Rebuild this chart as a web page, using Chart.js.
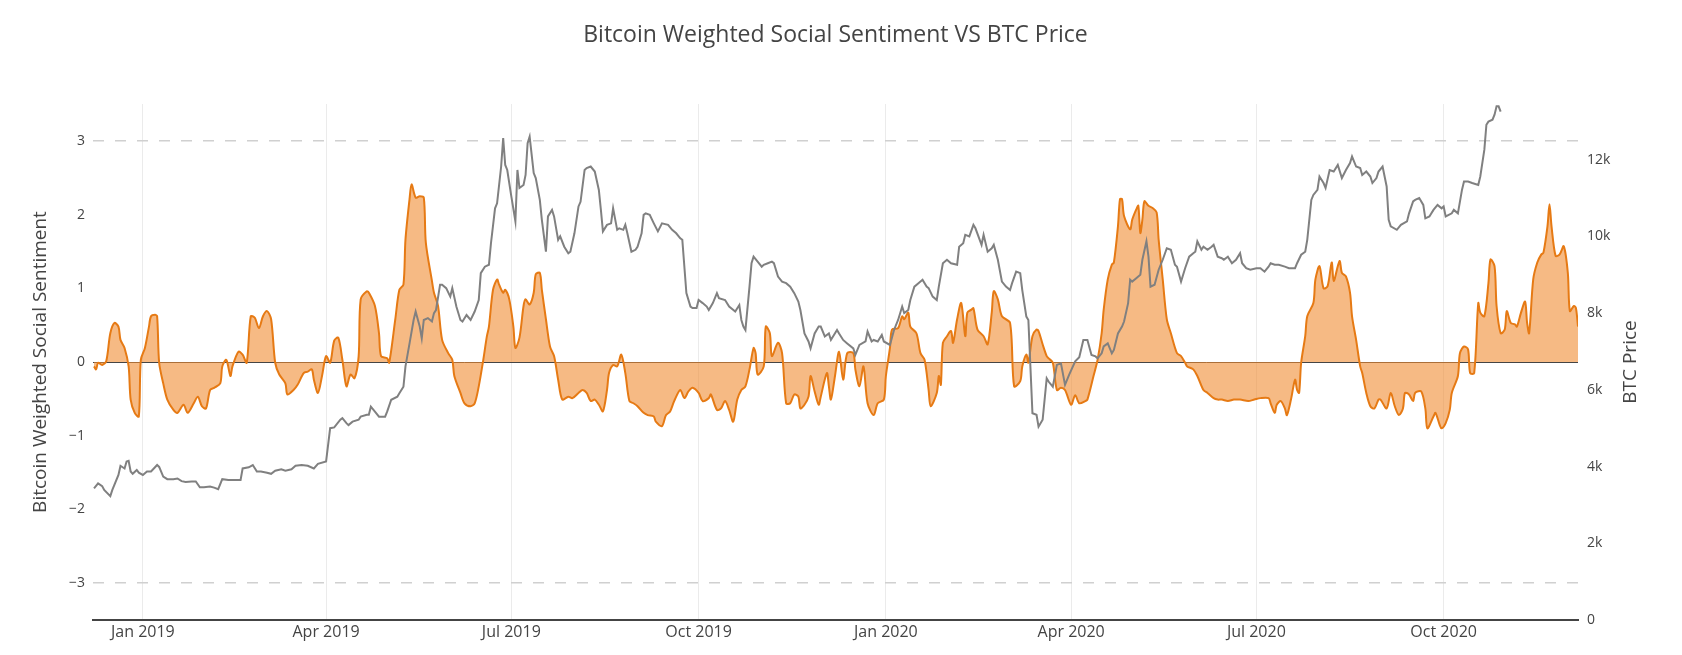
<!DOCTYPE html>
<html>
<head>
<meta charset="utf-8">
<script src="https://cdn.jsdelivr.net/npm/chart.js@4.4.1/dist/chart.umd.min.js"></script>
<style>
html,body{margin:0;padding:0;background:#fff;}
canvas{display:block;}
</style>
</head>
<body>
<canvas id="c" width="1682" height="655"></canvas>
<script>
// Day offsets are counted from this date
const startDate = '2019-01-01';

const titleText = 'Bitcoin Weighted Social Sentiment VS BTC Price';
const leftAxisTitle = 'Bitcoin Weighted Social Sentiment';
const rightAxisTitle = 'BTC Price';

const xTickDays = [0, 90, 181, 273, 365, 456, 547, 639];
const xTickLabels = ['Jan 2019', 'Apr 2019', 'Jul 2019', 'Oct 2019', 'Jan 2020', 'Apr 2020', 'Jul 2020', 'Oct 2020'];
const leftTicks = [-3, -2, -1, 0, 1, 2, 3];
const leftTickLabels = ['\u22123', '\u22122', '\u22121', '0', '1', '2', '3'];
const rightTicks = [0, 2000, 4000, 6000, 8000, 10000, 12000];
const rightTickLabels = ['0', '2k', '4k', '6k', '8k', '10k', '12k'];

const sentimentDays = [-24,-23,-22,-20,-18,-16,-14,-12,-11,-9,-7,-6,-4,-2,-1,1,3,4,6,7,8,10,12,15,17,20,22,25,27,29,31,33,35,38,39,41,43,44,47,49,51,53,55,57,59,61,63,65,67,70,71,74,76,79,81,83,84,86,88,90,92,94,96,98,100,102,104,106,107,110,111,114,116,117,120,121,124,126,128,129,131,132,134,136,138,139,142,143,145,147,150,152,153,156,158,161,163,165,167,169,170,172,174,175,177,178,180,182,183,185,187,188,190,192,193,195,196,198,200,202,204,206,209,211,214,216,218,220,222,224,226,228,229,231,233,235,237,239,241,243,246,248,251,252,255,257,259,261,264,266,268,270,273,275,278,279,282,284,286,288,290,292,294,296,298,300,301,302,305,306,308,309,312,314,316,318,320,322,323,325,327,328,330,332,333,336,337,338,340,342,344,346,349,350,352,354,356,359,361,364,365,367,368,371,373,374,376,377,380,382,384,386,387,390,391,392,393,395,397,398,400,402,404,405,407,408,410,413,415,417,418,420,422,426,428,431,432,434,435,437,439,440,442,444,445,447,449,451,453,456,458,460,463,464,467,469,471,472,474,476,477,479,480,481,482,485,486,488,489,490,491,492,494,496,498,499,501,503,505,508,510,512,513,516,518,521,523,526,528,530,533,536,539,543,546,549,553,554,556,557,559,561,562,564,566,567,568,569,571,572,575,576,578,580,582,584,585,587,588,589,591,593,594,596,598,599,601,603,605,607,608,611,613,615,617,619,620,622,624,625,628,630,631,634,635,637,638,640,642,643,646,647,649,651,652,654,656,657,659,661,662,664,665,667,669,670,672,674,675,677,679,680,681,683,685,687,688,690,691,692,694,696,698,700,701,703,704,705];
const sentimentValues = [-0.06,-0.10,-0.01,-0.04,0.01,0.39,0.53,0.48,0.30,0.19,-0.06,-0.51,-0.69,-0.74,0.03,0.19,0.48,0.62,0.64,0.62,-0.01,-0.29,-0.51,-0.65,-0.69,-0.58,-0.69,-0.56,-0.47,-0.60,-0.63,-0.38,-0.35,-0.29,-0.06,0.03,-0.19,-0.06,0.14,0.10,-0.01,0.62,0.60,0.46,0.62,0.69,0.58,-0.01,-0.17,-0.29,-0.44,-0.38,-0.31,-0.15,-0.13,-0.10,-0.24,-0.42,-0.19,0.08,-0.01,0.29,0.33,0.03,-0.33,-0.17,-0.22,0.08,0.85,0.96,0.94,0.76,0.39,0.08,0.05,-0.01,0.58,0.98,1.05,1.66,2.21,2.41,2.23,2.25,2.23,1.62,1.10,0.94,0.76,0.30,0.12,0.03,-0.19,-0.42,-0.56,-0.60,-0.56,-0.33,-0.01,0.35,0.48,0.98,1.12,1.05,0.94,0.98,0.85,0.48,0.19,0.33,0.76,0.85,0.78,0.94,1.19,1.21,0.98,0.58,0.21,0.08,-0.24,-0.51,-0.47,-0.49,-0.42,-0.38,-0.42,-0.53,-0.51,-0.58,-0.67,-0.38,-0.15,-0.04,-0.06,0.10,-0.15,-0.53,-0.56,-0.60,-0.69,-0.72,-0.74,-0.81,-0.87,-0.72,-0.67,-0.53,-0.38,-0.49,-0.40,-0.35,-0.42,-0.53,-0.49,-0.44,-0.65,-0.63,-0.53,-0.65,-0.81,-0.51,-0.38,-0.33,-0.10,0.19,0.12,-0.17,-0.06,0.48,0.39,0.08,0.26,0.12,-0.56,-0.56,-0.44,-0.47,-0.63,-0.58,-0.47,-0.19,-0.40,-0.58,-0.47,-0.15,-0.33,-0.51,-0.19,0.14,-0.24,0.12,0.12,-0.10,-0.33,-0.06,-0.56,-0.72,-0.56,-0.51,-0.19,0.19,0.44,0.46,0.62,0.58,0.67,0.48,0.39,0.12,0.03,-0.38,-0.60,-0.42,-0.19,-0.31,0.26,0.35,0.42,0.26,0.58,0.80,0.35,0.67,0.71,0.73,0.44,0.35,0.24,0.67,0.96,0.85,0.62,0.53,-0.33,-0.26,-0.06,0.10,-0.01,0.35,0.44,0.42,0.24,0.08,0.05,-0.01,-0.38,-0.35,-0.38,-0.58,-0.45,-0.56,-0.53,-0.51,-0.19,0.03,0.39,0.71,1.12,1.32,1.35,1.84,2.21,2.21,1.98,1.80,1.93,2.07,2.12,1.75,1.93,2.18,2.12,2.09,2.03,1.66,1.12,0.58,0.39,0.12,0.08,-0.01,-0.06,-0.10,-0.19,-0.38,-0.42,-0.49,-0.51,-0.51,-0.53,-0.51,-0.51,-0.53,-0.51,-0.49,-0.49,-0.56,-0.69,-0.58,-0.53,-0.63,-0.72,-0.51,-0.24,-0.38,-0.42,-0.01,0.35,0.62,0.80,1.12,1.30,1.00,1.03,1.35,1.10,1.30,1.37,1.21,1.16,0.94,0.62,0.30,-0.06,-0.15,-0.42,-0.60,-0.63,-0.51,-0.51,-0.63,-0.42,-0.60,-0.72,-0.63,-0.42,-0.44,-0.53,-0.42,-0.40,-0.63,-0.90,-0.74,-0.69,-0.85,-0.90,-0.83,-0.65,-0.42,-0.19,0.12,0.21,0.17,-0.15,-0.15,0.80,0.67,0.62,1.07,1.39,1.30,0.76,0.39,0.44,0.69,0.53,0.51,0.48,0.67,0.82,0.53,0.39,1.12,1.35,1.46,1.48,1.84,2.14,1.84,1.44,1.46,1.57,1.21,0.69,0.76,0.73,0.48];

const priceDays = [-24,-22,-20,-19,-16,-15,-12,-11,-9,-8,-7,-6,-5,-3,-2,0,2,4,7,8,10,12,15,17,19,21,24,26,28,30,33,35,37,39,42,46,48,49,52,54,56,58,61,63,65,68,70,73,75,78,81,84,86,90,92,94,97,98,100,101,103,106,107,110,111,112,114,116,119,120,122,125,126,128,129,131,133,134,136,137,138,140,142,143,144,146,147,149,151,152,154,156,157,159,161,163,165,166,168,170,171,173,174,176,177,178,179,181,183,184,185,187,188,189,190,192,193,195,196,198,199,201,202,204,205,207,209,210,212,214,215,217,218,220,222,224,225,226,228,230,231,233,234,236,237,238,240,242,243,245,246,247,249,251,253,255,258,260,262,264,265,267,269,270,272,273,275,277,278,280,282,283,286,288,291,293,294,295,296,298,299,300,302,304,305,307,309,310,312,314,316,318,320,322,323,325,327,328,330,332,333,335,337,338,341,342,344,346,349,350,352,355,356,358,359,361,363,364,367,369,371,373,374,376,377,379,381,383,385,386,388,390,391,393,395,397,400,401,403,404,406,408,409,412,413,415,417,418,420,422,424,426,427,429,431,432,434,435,437,439,440,442,444,445,447,449,451,453,455,458,460,462,464,466,468,469,471,472,474,476,477,479,481,482,484,485,486,488,490,491,493,494,495,497,499,501,503,505,507,508,510,512,514,516,517,518,520,521,523,525,526,528,530,531,533,535,537,539,540,542,544,547,549,551,553,554,556,558,561,563,566,567,569,571,572,574,575,577,578,580,581,583,585,587,589,591,593,594,596,598,599,601,603,604,606,607,609,611,612,613,616,618,621,622,624,625,627,629,630,632,634,636,638,639,640,643,644,646,648,649,651,653,656,657,659,660,661,663,664,665,666,667];
const priceValues = [3430,3560,3490,3390,3230,3390,3780,4020,3950,4130,4150,3870,3810,3910,3840,3780,3870,3870,4040,3990,3740,3670,3670,3690,3620,3600,3610,3610,3460,3460,3480,3450,3410,3670,3650,3650,3650,3950,3980,4040,3870,3870,3840,3810,3890,3930,3890,3930,4020,4040,4020,3950,4070,4130,5000,5020,5220,5260,5130,5080,5170,5220,5300,5350,5350,5560,5430,5300,5300,5430,5740,5820,5910,6080,6610,7210,7820,8040,7650,7340,7820,7870,7780,8000,8080,8740,8740,8650,8430,8650,8170,7820,7780,7950,7820,8040,8340,9040,9210,9260,9820,10730,10860,11820,12560,11860,11730,11040,10390,11730,11260,11340,11600,12430,12600,11650,11520,10950,10430,9600,10520,10690,10520,9910,10000,9730,9560,9600,10080,10780,10900,11730,11780,11820,11690,11210,10690,10130,10300,10340,10730,10170,10210,10170,10300,10080,9600,9650,9730,10080,10560,10600,10560,10340,10130,10340,10300,10170,10080,9950,9910,8520,8170,8130,8130,8340,8260,8170,8080,8260,8520,8390,8340,8170,8040,8210,7820,7650,7560,8690,9300,9470,9340,9210,9260,9300,9340,9300,8950,8820,8780,8690,8520,8300,8080,7470,7260,7080,7470,7650,7650,7390,7470,7300,7560,7470,7300,7210,7080,6910,7170,7260,7520,7260,7300,7260,7430,7260,7170,7560,7820,8170,8000,8080,8340,8690,8780,8870,8690,8650,8430,8340,8690,9300,9390,9300,9260,9730,9820,10040,10000,10300,10210,9780,10040,9600,9690,9780,9390,8820,8690,8600,8780,9080,9040,8600,7910,7820,5390,5350,5040,5220,6300,6210,6080,6650,6690,6130,6390,6740,6850,7300,7300,6910,6870,6820,6950,7130,7210,6950,7040,7470,7650,7780,8260,8870,8820,8910,9000,9390,9870,9470,8690,8740,9130,9390,9690,9650,9260,9210,8820,9170,9470,9560,9600,9870,9650,9730,9650,9730,9780,9470,9430,9390,9470,9300,9390,9560,9300,9170,9130,9170,9170,9080,9210,9300,9260,9260,9210,9170,9170,9300,9520,9600,9910,10950,11080,11210,11560,11390,11260,11730,11690,11860,11520,11730,11910,12080,11820,11780,11600,11690,11560,11390,11520,11690,11820,11300,10430,10260,10170,10300,10390,10600,10910,10950,11000,10820,10470,10520,10690,10820,10730,10780,10520,10600,10690,10600,11210,11430,11430,11390,11340,11560,12260,12910,12990,13040,13170,13390,13390,13250];

const xMin = -24.5, xMax = 705;

const toPoints = (xs, ys) => xs.map((x, i) => ({ x: x, y: ys[i] }));

const textPlugin = {
  id: 'texts',
  afterDraw(chart) {
    const ctx = chart.ctx;
    const a = chart.chartArea;
    ctx.save();
    ctx.fillStyle = '#444';
    ctx.textAlign = 'center';
    ctx.textBaseline = 'middle';
    ctx.font = '23px "Open Sans", sans-serif';
    ctx.fillText(titleText, (a.left + a.right) / 2, 35);
    ctx.font = '19px "Open Sans", sans-serif';
    ctx.save();
    ctx.translate(41, (a.top + a.bottom) / 2);
    ctx.rotate(-Math.PI / 2);
    ctx.fillText(leftAxisTitle, 0, 0);
    ctx.restore();
    ctx.save();
    ctx.translate(1631, (a.top + a.bottom) / 2);
    ctx.rotate(-Math.PI / 2);
    ctx.fillText(rightAxisTitle, 0, 0);
    ctx.restore();
    ctx.restore();
  }
};

Chart.defaults.font.family = '"Open Sans", sans-serif';
Chart.defaults.color = '#444';

new Chart(document.getElementById('c'), {
  type: 'line',
  data: {
    datasets: [
      {
        label: 'BTC Price',
        data: toPoints(priceDays, priceValues),
        yAxisID: 'y1',
        borderColor: '#808080',
        borderWidth: 2,
        pointRadius: 0,
        tension: 0,
        fill: false,
        order: 0
      },
      {
        label: 'Sentiment',
        data: toPoints(sentimentDays, sentimentValues),
        yAxisID: 'y',
        borderColor: 'rgb(230,122,20)',
        backgroundColor: 'rgba(240,140,50,0.6)',
        borderWidth: 2,
        pointRadius: 0,
        tension: 0.3,
        fill: 'origin',
        order: 1
      }
    ]
  },
  options: {
    responsive: false,
    animation: false,
    devicePixelRatio: 1,
    layout: { padding: { top: 104, left: 0, right: 0, bottom: 0 } },
    plugins: { legend: { display: false }, tooltip: { enabled: false }, title: { display: false } },
    scales: {
      x: {
        type: 'linear',
        min: xMin,
        max: xMax,
        afterBuildTicks: s => { s.ticks = xTickDays.map(v => ({ value: v })); },
        afterFit: s => { s.height = 35; },
        ticks: {
          autoSkip: false,
          maxRotation: 0,
          padding: 3,
          font: { size: 16 },
          color: '#444',
          callback: (v, i) => xTickLabels[i]
        },
        grid: { color: '#ebebeb', lineWidth: 1, drawTicks: false },
        border: { display: true, color: '#444', width: 2 }
      },
      y: {
        type: 'linear',
        position: 'left',
        min: -3.5,
        max: 3.5,
        afterBuildTicks: s => { s.ticks = leftTicks.map(v => ({ value: v })); },
        afterFit: s => { s.width = 93; },
        ticks: {
          autoSkip: false,
          padding: 8,
          font: { size: 14 },
          color: '#444',
          callback: (v, i) => leftTickLabels[i]
        },
        grid: {
          drawTicks: false,
          color: c => (c.tick && c.tick.value === 0) ? '#444' : ((c.tick && Math.abs(c.tick.value) === 3) ? '#d0d0d0' : 'rgba(0,0,0,0)'),
          lineWidth: c => (c.tick && c.tick.value === 0) ? 1 : 1.5
        },
        border: {
          display: false,
          dash: c => (c.tick && Math.abs(c.tick.value) === 3) ? [11, 11] : []
        }
      },
      y1: {
        type: 'linear',
        position: 'right',
        min: 0,
        max: 13450,
        afterBuildTicks: s => { s.ticks = rightTicks.map(v => ({ value: v })); },
        afterFit: s => { s.width = 104; },
        ticks: {
          autoSkip: false,
          padding: 9,
          font: { size: 14 },
          color: '#444',
          callback: (v, i) => rightTickLabels[i]
        },
        grid: { display: false, drawTicks: false },
        border: { display: false }
      }
    }
  },
  plugins: [textPlugin]
});
</script>
</body>
</html>
